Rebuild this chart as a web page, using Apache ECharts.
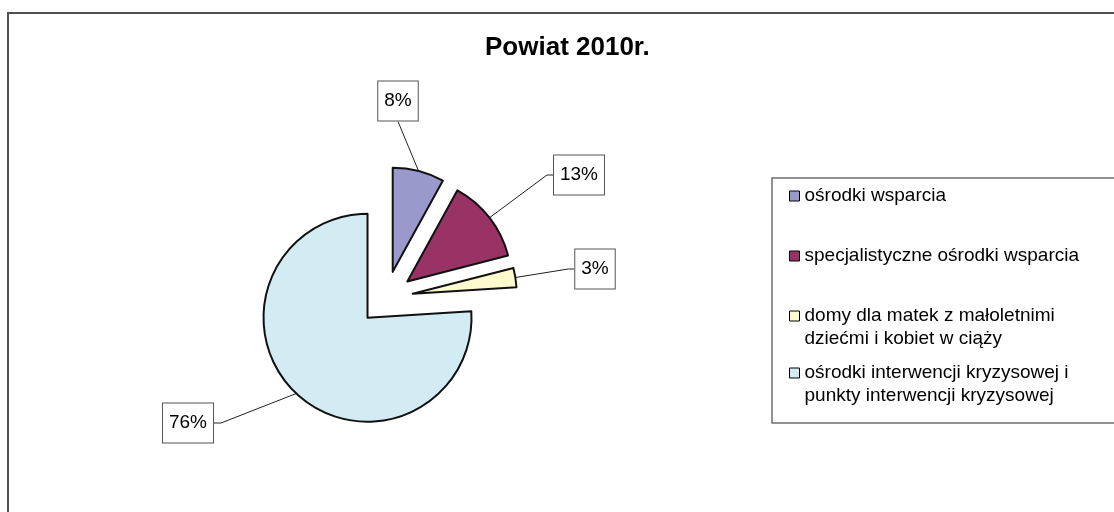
<!DOCTYPE html>
<html>
<head>
<meta charset="utf-8">
<script src="https://cdn.jsdelivr.net/npm/echarts@6/dist/echarts.min.js"></script>
<style>
  html, body { margin: 0; padding: 0; background: #fff; }
  #chart { width: 1114px; height: 512px; }
</style>
</head>
<body>
<div id="chart"></div>
<script>
// data
const categories = [
  'ośrodki wsparcia',
  'specjalistyczne ośrodki wsparcia',
  'domy dla matek z małoletnimi dziećmi i kobiet w ciąży',
  'ośrodki interwencji kryzysowej i punkty interwencji kryzysowej'
]
const shares = [8, 13, 3, 76]
const legendLines = [
  ['ośrodki wsparcia'],
  ['specjalistyczne ośrodki wsparcia'],
  ['domy dla matek z małoletnimi', 'dziećmi i kobiet w ciąży'],
  ['ośrodki interwencji kryzysowej i', 'punkty interwencji kryzysowej']
]
const colors = ['#9999cc', '#993366', '#fdfacd', '#d3ecf3']

// layout
const CX = 386, CY = 298, R = 104, EXPLODE = 27
const FONT = 'Liberation Sans, Arial, sans-serif'
// label boxes: centre and which side the leader line enters
const labelBoxes = [
  { cx: 398, cy: 101, side: 'bottom' },
  { cx: 579, cy: 175, side: 'left' },
  { cx: 595, cy: 269, side: 'left' },
  { cx: 188, cy: 423, side: 'right' }
]
const legendCentres = [196, 256, 316, 373]

const total = shares.reduce((a, b) => a + b, 0)

// direction of the middle of a slice, clockwise from 12 o'clock
const midDir = (i) => {
  let before = 0
  for (let k = 0; k < i; k++) before += shares[k]
  const a = (before + shares[i] / 2) / total * 2 * Math.PI
  return [Math.sin(a), -Math.cos(a)]
}

const chart = echarts.init(document.getElementById('chart'))

const legends = categories.map((name, i) => {
  const multi = legendLines[i].length > 1
  return {
    data: [name],
    orient: 'vertical',
    left: 789,
    top: multi ? legendCentres[i] - 34.5 : legendCentres[i] - 11.5,
    padding: 0,
    itemWidth: 10,
    itemHeight: 10,
    icon: 'rect',
    selectedMode: false,
    itemStyle: { color: colors[i], opacity: 1, borderColor: '#000', borderWidth: 1 },
    // blank first line keeps the square level with the first text line
    formatter: () => (multi ? '\n' : '') + legendLines[i].join('\n'),
    textStyle: { fontFamily: FONT, fontSize: 19, lineHeight: 23, color: '#000' }
  }
})

// one pie per slice so each slice can be pulled out from the centre
const series = categories.map((_, s) => {
  const d = midDir(s)
  return {
    type: 'pie',
    center: [CX + EXPLODE * d[0], CY + EXPLODE * d[1]],
    radius: [0, R],
    startAngle: 90,
    clockwise: true,
    silent: true,
    avoidLabelOverlap: false,
    percentPrecision: 0,
    emphasis: { disabled: true },
    label: {
      formatter: '{d}%',
      fontFamily: FONT,
      fontSize: 19,
      lineHeight: 19,
      color: '#000',
      backgroundColor: '#fff',
      borderColor: '#555',
      borderWidth: 1,
      padding: [10, 6]
    },
    labelLine: { lineStyle: { color: '#222', width: 1 } },
    labelLayout: (params) => {
      const i = params.dataIndex
      if (i !== s) return {}
      const box = labelBoxes[i]
      const hw = params.labelRect.width / 2
      const hh = params.labelRect.height / 2
      const dir = midDir(i)
      const start = [CX + (R + EXPLODE) * dir[0], CY + (R + EXPLODE) * dir[1]]
      let end, bend
      if (box.side === 'bottom') {
        end = [box.cx, box.cy + hh]
        bend = [(start[0] + end[0]) / 2, (start[1] + end[1]) / 2]
      } else if (box.side === 'left') {
        end = [box.cx - hw, box.cy]
        bend = [end[0] - 6, end[1]]
      } else {
        end = [box.cx + hw, box.cy]
        bend = [end[0] + 7, end[1]]
      }
      return {
        x: box.cx,
        y: box.cy,
        align: 'center',
        verticalAlign: 'middle',
        labelLinePoints: [start, bend, end]
      }
    },
    data: categories.map((name, i) => {
      const shown = i === s
      return {
        name: name,
        value: shares[i],
        itemStyle: shown
          ? { color: colors[i], borderColor: '#111', borderWidth: 2 }
          : { color: 'transparent', borderWidth: 0 },
        label: { show: shown },
        labelLine: { show: shown }
      }
    })
  }
})

const option = {
  animation: false,
  backgroundColor: '#fff',
  title: {
    text: 'Powiat 2010r.',
    left: 480,
    top: 30,
    textStyle: { fontFamily: FONT, fontSize: 26, fontWeight: 'bold', color: '#000' }
  },
  legend: legends,
  graphic: [
    {
      type: 'rect',
      z: -10,
      shape: { x: 8, y: 13, width: 1200, height: 600 },
      style: { fill: null, stroke: '#505050', lineWidth: 2 }
    },
    {
      type: 'rect',
      z: -10,
      shape: { x: 772, y: 178, width: 400, height: 245 },
      style: { fill: '#fff', stroke: '#6e6e6e', lineWidth: 1.5 }
    }
  ],
  series: series
}

chart.setOption(option)
</script>
</body>
</html>
